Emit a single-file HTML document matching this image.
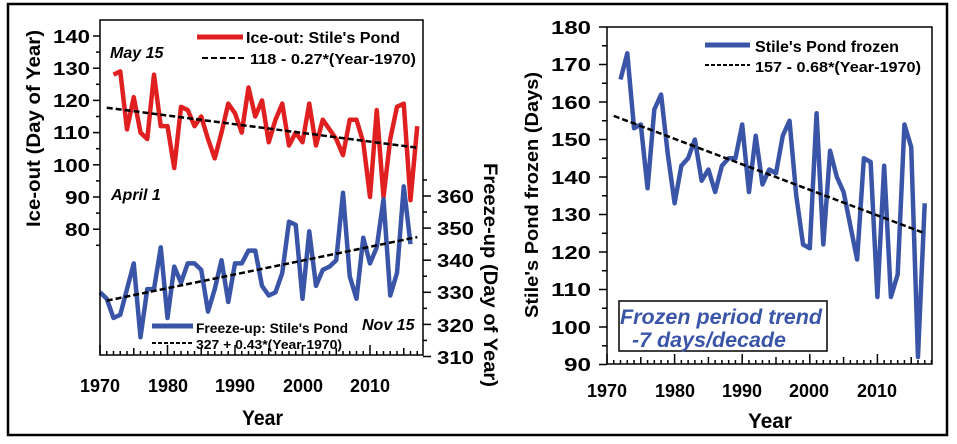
<!DOCTYPE html>
<html><head><meta charset="utf-8"><style>
html,body{margin:0;padding:0;background:#fff;}
svg{display:block;font-family:"Liberation Sans",Arial,sans-serif;font-weight:bold;}
</style></head><body>
<svg id="s" width="957" height="444" viewBox="0 0 957 444" xmlns="http://www.w3.org/2000/svg">
<rect x="8" y="4" width="939" height="431" fill="#fff" stroke="#000" stroke-width="2.5"/>
<g id="g"></g>
<!-- left plot texts -->
<g font-size="18" text-anchor="end" lengthAdjust="spacingAndGlyphs">
<text x="90" y="43" textLength="37" lengthAdjust="spacingAndGlyphs">140</text><text x="90" y="75" textLength="37" lengthAdjust="spacingAndGlyphs">130</text><text x="90" y="107" textLength="37" lengthAdjust="spacingAndGlyphs">120</text>
<text x="90" y="139" textLength="37" lengthAdjust="spacingAndGlyphs">110</text><text x="90" y="172" textLength="37" lengthAdjust="spacingAndGlyphs">100</text><text x="90" y="204" textLength="25" lengthAdjust="spacingAndGlyphs">90</text><text x="90" y="236" textLength="25" lengthAdjust="spacingAndGlyphs">80</text>
</g>
<g font-size="18" text-anchor="start">
<text x="437" y="203" textLength="37" lengthAdjust="spacingAndGlyphs">360</text><text x="437" y="235" textLength="37" lengthAdjust="spacingAndGlyphs">350</text><text x="437" y="267" textLength="37" lengthAdjust="spacingAndGlyphs">340</text>
<text x="437" y="299" textLength="37" lengthAdjust="spacingAndGlyphs">330</text><text x="437" y="332" textLength="37" lengthAdjust="spacingAndGlyphs">320</text><text x="437" y="364" textLength="37" lengthAdjust="spacingAndGlyphs">310</text>
</g>
<g font-size="18">
<text x="80" y="392" textLength="40" lengthAdjust="spacingAndGlyphs">1970</text><text x="148" y="392" textLength="40" lengthAdjust="spacingAndGlyphs">1980</text><text x="215" y="392" textLength="40" lengthAdjust="spacingAndGlyphs">1990</text>
<text x="283" y="392" textLength="40" lengthAdjust="spacingAndGlyphs">2000</text><text x="350" y="392" textLength="40" lengthAdjust="spacingAndGlyphs">2010</text>
</g>
<text x="242" y="425" font-size="21" textLength="41" lengthAdjust="spacingAndGlyphs">Year</text>
<text transform="translate(40,227) rotate(-90)" font-size="19" textLength="197" lengthAdjust="spacingAndGlyphs">Ice-out (Day of Year)</text>
<text transform="translate(484,163) rotate(90)" font-size="19" textLength="224" lengthAdjust="spacingAndGlyphs">Freeze-up (Day of Year)</text>
<g font-style="italic" font-size="16" font-weight="bold">
<text x="110" y="58">May 15</text><text x="111" y="200">April 1</text><text x="362" y="330">Nov 15</text>
</g>
<line x1="197" y1="37" x2="243" y2="37" stroke="#e02020" stroke-width="5"/>
<text x="246" y="43" font-size="16" textLength="154" lengthAdjust="spacingAndGlyphs">Ice-out: Stile's Pond</text>
<line x1="202" y1="58" x2="246" y2="58" stroke="#000" stroke-width="2" stroke-dasharray="6,3"/>
<text x="250" y="64" font-size="15" textLength="166" lengthAdjust="spacingAndGlyphs">118 - 0.27*(Year-1970)</text>
<line x1="152" y1="326" x2="193" y2="326" stroke="#3a55a8" stroke-width="5"/>
<text x="196" y="333" font-size="13.5" textLength="152" lengthAdjust="spacingAndGlyphs">Freeze-up: Stile's Pond</text>
<line x1="152" y1="343" x2="193" y2="343" stroke="#000" stroke-width="2" stroke-dasharray="4,2"/>
<text x="196" y="349" font-size="13" textLength="146" lengthAdjust="spacingAndGlyphs">327 + 0.43*(Year-1970)</text>
<!-- right plot texts -->
<g font-size="18" text-anchor="end">
<text x="591" y="34" textLength="40" lengthAdjust="spacingAndGlyphs">180</text><text x="591" y="71" textLength="40" lengthAdjust="spacingAndGlyphs">170</text><text x="591" y="109" textLength="40" lengthAdjust="spacingAndGlyphs">160</text><text x="591" y="146" textLength="40" lengthAdjust="spacingAndGlyphs">150</text>
<text x="591" y="184" textLength="40" lengthAdjust="spacingAndGlyphs">140</text><text x="591" y="221" textLength="40" lengthAdjust="spacingAndGlyphs">130</text><text x="591" y="259" textLength="40" lengthAdjust="spacingAndGlyphs">120</text><text x="591" y="296" textLength="40" lengthAdjust="spacingAndGlyphs">110</text>
<text x="591" y="334" textLength="40" lengthAdjust="spacingAndGlyphs">100</text><text x="591" y="371" textLength="27" lengthAdjust="spacingAndGlyphs">90</text>
</g>
<g font-size="18">
<text x="587" y="397" textLength="40" lengthAdjust="spacingAndGlyphs">1970</text><text x="655" y="397" textLength="40" lengthAdjust="spacingAndGlyphs">1980</text><text x="722" y="397" textLength="40" lengthAdjust="spacingAndGlyphs">1990</text>
<text x="789" y="397" textLength="40" lengthAdjust="spacingAndGlyphs">2000</text><text x="857" y="397" textLength="40" lengthAdjust="spacingAndGlyphs">2010</text>
</g>
<text x="748" y="428" font-size="21" textLength="44" lengthAdjust="spacingAndGlyphs">Year</text>
<text transform="translate(538,318) rotate(-90)" font-size="18" textLength="246" lengthAdjust="spacingAndGlyphs">Stile's Pond frozen (Days)</text>
<line x1="705" y1="45" x2="750" y2="45" stroke="#3a55a8" stroke-width="5"/>
<text x="755" y="52" font-size="16" textLength="144" lengthAdjust="spacingAndGlyphs">Stile's Pond frozen</text>
<line x1="705" y1="65" x2="750" y2="65" stroke="#000" stroke-width="2" stroke-dasharray="4,2"/>
<text x="755" y="72" font-size="15" textLength="166" lengthAdjust="spacingAndGlyphs">157 - 0.68*(Year-1970)</text>
<rect x="619" y="301" width="208" height="50" fill="#fff" stroke="#000" stroke-width="1.5"/>
<text x="620" y="324" font-size="21" font-style="italic" fill="#3a55a8" textLength="202" lengthAdjust="spacingAndGlyphs">Frozen period trend</text>
<text x="632" y="347" font-size="21" font-style="italic" fill="#3a55a8" textLength="154" lengthAdjust="spacingAndGlyphs">-7 days/decade</text>
</svg>
<script>
var NS="http://www.w3.org/2000/svg",g=document.getElementById("g");
function el(t,a){var e=document.createElementNS(NS,t);for(var k in a)e.setAttribute(k,a[k]);g.appendChild(e);return e;}
function ln(x1,y1,x2,y2,w){el("line",{x1:x1,y1:y1,x2:x2,y2:y2,stroke:"#000","stroke-width":w||1.5});}
var LX=function(y){return 100+(y-1970)*6.75;},LY=function(v){return 36+(140-v)*3.22;},RY=function(v){return 196+(360-v)*3.21;};
var ice=[128,129,111,121,110,108,128,112,112,99,118,117,112,115,108,102,110,119,116,110,124,115,120,107,114,119,106,110,107,119,106,114,111,108,103,114,114,107,90,117,90,108,118,119,89,112];
var fr=[330,328,322,323,331,339,316,331,331,344,322,338,333,339,339,337,324,331,340,327,339,339,343,343,332,329,330,336,352,351,328,349,332,337,338,340,361,335,328,347,339,344,359,329,336,363,345];
var p="";ice.forEach(function(v,i){p+=LX(1972+i)+","+LY(v)+" ";});
el("polyline",{points:p,fill:"none",stroke:"#e02020","stroke-width":4.5,"stroke-linejoin":"round"});
p="";fr.forEach(function(v,i){p+=LX(1970+i)+","+RY(v)+" ";});
el("polyline",{points:p,fill:"none",stroke:"#3a55a8","stroke-width":4.5,"stroke-linejoin":"round"});
el("line",{x1:LX(1971),y1:LY(118-0.27),x2:LX(2017),y2:LY(118-0.27*47),stroke:"#000","stroke-width":2.5,"stroke-dasharray":"6,3"});
el("line",{x1:LX(1971),y1:RY(327.4),x2:LX(2017),y2:RY(347.2),stroke:"#000","stroke-width":2.5,"stroke-dasharray":"6,3"});
el("rect",{x:100,y:20,width:323,height:335,fill:"none",stroke:"#000","stroke-width":1.5});
for(var v=75;v<=145;v+=5){var y=LY(v);if(y<20)continue;ln(100,y,v%10==0?93:96,y);}
for(var v=310;v<=365;v+=5){var y=RY(v);if(y<20)continue;ln(423,y,v%10==0?431:427,y);}
for(var yr=1970;yr<=2017;yr++){var x=LX(yr);ln(x,355,x,yr%10==0?345:yr%5==0?348:351);}
var FX=function(y){return 607+(y-1970)*6.76;},FY=function(v){return 27+(180-v)*3.75;};
var fz=[166,173,153,154,137,158,162,146,133,143,145,150,139,142,136,143,145,145,154,136,151,138,142,141,151,155,135,122,121,157,122,147,140,136,127,118,145,144,108,143,108,114,154,148,92,133];
p="";fz.forEach(function(v,i){p+=FX(1972+i)+","+FY(v)+" ";});
el("polyline",{points:p,fill:"none",stroke:"#3a55a8","stroke-width":4.5,"stroke-linejoin":"round"});
el("line",{x1:FX(1971),y1:FY(156.3),x2:FX(2017),y2:FY(125),stroke:"#000","stroke-width":2.5,"stroke-dasharray":"6,3"});
el("rect",{x:607,y:27,width:325,height:337,fill:"none",stroke:"#000","stroke-width":1.5});
for(var v=90;v<=180;v+=5){var y=FY(v);ln(607,y,v%10==0?599:602,y);}
for(var yr=1970;yr<=2018;yr++){var x=FX(yr);if(x>932)break;ln(x,364,x,yr%10==0?354:yr%5==0?357:360);}
</script>
</body></html>
